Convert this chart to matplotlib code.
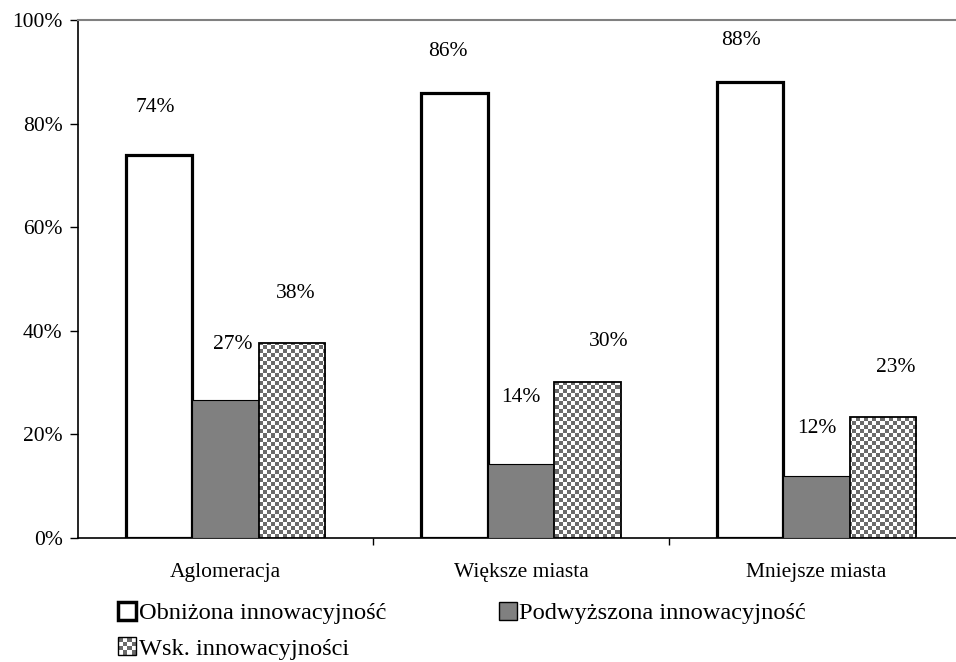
import numpy as np
import matplotlib
matplotlib.use("Agg")
import matplotlib.pyplot as plt
from matplotlib.patches import Rectangle, Patch
from matplotlib.colors import ListedColormap

categories = ["Aglomeracja", "Większe miasta", "Mniejsze miasta"]
series_names = ["Obniżona innowacyjność", "Podwyższona innowacyjność", "Wsk. innowacyjności"]
obnizona = [74.0, 86.0, 88.0]
podwyzszona = [26.6, 14.3, 12.0]
wskaznik = [37.6, 30.2, 23.3]
yticks = [0, 20, 40, 60, 80, 100]

# label offsets (pixels) from bar top centre, as placed in the original
label_dx = [[-4, -7, -9], [7, 0, 1], [4, 21, 13]]
label_dy = [[47, 41, 42], [56, 66, 47], [50, 40, 50]]

plt.rcParams['font.family'] = ['Liberation Serif', 'DejaVu Serif']
fs = 15.5
fs_leg = 17.6

GREY = '#808080'
CHECK = '#6a6a6a'

fig = plt.figure(figsize=(9.56, 6.62), dpi=100)
W, H = 956, 662
ax = fig.add_axes([78 / W, (H - 538) / H, 886 / W, 518 / H])

x = np.arange(len(categories))
w = 0.225

b1 = ax.bar(x - w, obnizona, w, facecolor='white', edgecolor='black', linewidth=2.3, zorder=3)
b2 = ax.bar(x, podwyzszona, w, facecolor=GREY, edgecolor='black', linewidth=0.8, zorder=3)
b3 = ax.bar(x + w, wskaznik, w, facecolor='none', edgecolor='black', linewidth=1.3, zorder=4)

ax.set_xlim(-0.5, 2.5)
ax.set_ylim(0, 100)

# checker texture for the third series, clipped to each bar
nx, ny = 886 // 4, 518 // 4
ii, jj = np.meshgrid(np.arange(nx), np.arange(ny))
checker = (ii + jj) % 2
cmap = ListedColormap(['white', CHECK])
for bar in b3:
    im = ax.imshow(checker, cmap=cmap, extent=(-0.5, 2.5, 0, 100), origin='lower',
                   aspect='auto', interpolation='nearest', zorder=3)
    im.set_clip_path(bar)

# value labels
for s, (bars, vals) in enumerate(zip([b1, b2, b3], [obnizona, podwyzszona, wskaznik])):
    for k, (bar, v) in enumerate(zip(bars, vals)):
        ax.annotate(f"{v:.0f}%", (bar.get_x() + bar.get_width() / 2, v),
                    xytext=(label_dx[s][k], label_dy[s][k]), textcoords='offset pixels',
                    ha='center', va='center', fontsize=fs, zorder=5)

ax.set_yticks(yticks)
ax.set_yticklabels([f"{t}%" for t in yticks], fontsize=fs)
ax.set_xticks(x)
ax.set_xticklabels(categories, fontsize=fs)
ax.set_xticks([0.5, 1.5], minor=True)
ax.tick_params(axis='x', which='major', length=0, pad=18)
ax.tick_params(axis='x', which='minor', length=5, width=1, direction='out')
ax.tick_params(axis='y', length=6, width=1, direction='out', pad=5)

ax.spines['right'].set_visible(False)
ax.spines['top'].set_color(GREY)
ax.spines['top'].set_linewidth(1.5)
ax.spines['left'].set_linewidth(1.2)
ax.spines['bottom'].set_linewidth(1.2)


class CheckerHandler:
    def legend_artist(self, legend, orig_handle, fontsize, handlebox):
        x0, y0 = handlebox.xdescent, handlebox.ydescent
        hw, hh = handlebox.width, handlebox.height
        n = 4
        for i in range(n):
            for j in range(n):
                c = CHECK if (i + j) % 2 else 'white'
                r = Rectangle([x0 + i * hw / n, y0 + j * hh / n], hw / n, hh / n,
                              facecolor=c, edgecolor='none', transform=handlebox.get_transform())
                handlebox.add_artist(r)
        frame = Rectangle([x0, y0], hw, hh, facecolor='none', edgecolor='black', linewidth=1,
                          transform=handlebox.get_transform())
        handlebox.add_artist(frame)
        return frame


h1 = Patch(facecolor='white', edgecolor='black', linewidth=2.5)
h2 = Patch(facecolor=GREY, edgecolor='black', linewidth=1)
h3 = Patch(facecolor='white', edgecolor='black')
# column-major fill: first column holds series 1 and 3, second column series 2
fig.legend([h1, h3, h2], [series_names[0], series_names[2], series_names[1]],
           loc='upper left', bbox_to_anchor=(96 / W, 1 - 580 / H),
           ncol=2, frameon=False, fontsize=fs_leg, handlelength=0.75, handleheight=0.75,
           handletextpad=0.1, columnspacing=4.6, labelspacing=0.55,
           handler_map={h3: CheckerHandler()})

fig.savefig("out.png", dpi=100)
